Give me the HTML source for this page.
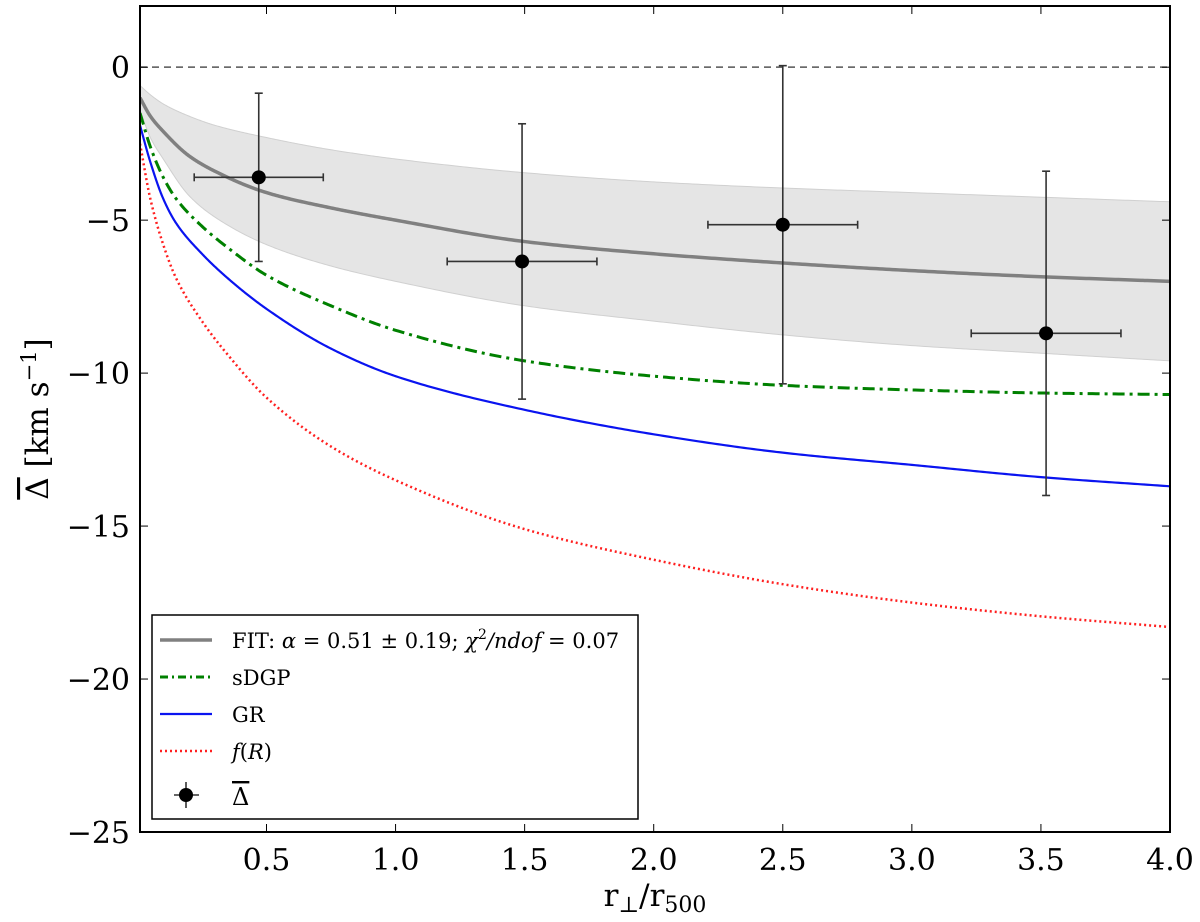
<!DOCTYPE html>
<html><head><meta charset="utf-8"><style>
body{margin:0;background:#fff}
svg text{font-family:"DejaVu Serif","Liberation Serif",serif;fill:#000}
</style></head><body>
<svg id="c" width="1200" height="917"></svg>
<script>
const xsFit=[0.01,0.05,0.1,0.2,0.3,0.5,0.75,1,1.5,2,2.5,3,3.5,4];
const fitVals=[-1.0,-1.6,-2.1,-2.9,-3.4,-4.1,-4.6,-5.0,-5.7,-6.1,-6.4,-6.65,-6.85,-7.0];
const bandUpper=[-0.6,-0.9,-1.2,-1.6,-1.9,-2.3,-2.7,-3.0,-3.45,-3.75,-3.95,-4.1,-4.25,-4.4];
const bandLower=[-1.4,-2.3,-3.0,-4.2,-4.9,-5.8,-6.5,-7.0,-7.8,-8.3,-8.75,-9.1,-9.35,-9.6];
const xsModel=[0.01,0.05,0.1,0.15,0.25,0.35,0.5,0.75,1,1.5,2,2.5,3,3.5,4];
const sdgpVals=[-1.5,-2.6,-3.6,-4.3,-5.2,-5.9,-6.8,-7.8,-8.6,-9.6,-10.1,-10.4,-10.55,-10.65,-10.7];
const grVals=[-1.9,-3.1,-4.3,-5.1,-6.1,-6.9,-7.9,-9.2,-10.1,-11.2,-12.0,-12.6,-13.0,-13.4,-13.7];
const frVals=[-2.5,-4.3,-5.8,-6.9,-8.3,-9.4,-10.8,-12.4,-13.5,-15.1,-16.1,-16.9,-17.5,-17.95,-18.3];
const ptX=[0.47,1.49,2.5,3.52];
const ptY=[-3.6,-6.35,-5.15,-8.7];
const ptXErr=[0.25,0.29,0.29,0.29];
const ptYErr=[2.75,4.5,5.2,5.3];
const xTicks=[0.5,1.0,1.5,2.0,2.5,3.0,3.5,4.0];
const xTickLabels=["0.5","1.0","1.5","2.0","2.5","3.0","3.5","4.0"];
const yTicks=[0,-5,-10,-15,-20,-25];
const yTickLabels=["0","\u22125","\u221210","\u221215","\u221220","\u221225"];

const L=140,R=1170,T=6,B=832,X0=0.01,X1=4,Y0=-25,Y1=2;
const sx=v=>L+(v-X0)/(X1-X0)*(R-L);
const sy=v=>B-(v-Y0)/(Y1-Y0)*(B-T);
const svg=document.getElementById('c');
const NS='http://www.w3.org/2000/svg';
function el(t,a,p){const e=document.createElementNS(NS,t);for(const k in a)e.setAttribute(k,a[k]);(p||svg).appendChild(e);return e;}
// monotone cubic (Fritsch-Carlson) in data space, densely sampled
function mono(xs,ys){
  const n=xs.length,d=[],m=[];
  for(let i=0;i<n-1;i++)d.push((ys[i+1]-ys[i])/(xs[i+1]-xs[i]));
  m[0]=d[0];m[n-1]=d[n-2];
  for(let i=1;i<n-1;i++){
    if(d[i-1]*d[i]<=0)m[i]=0;
    else{const h0=xs[i]-xs[i-1],h1=xs[i+1]-xs[i];const w1=2*h1+h0,w2=h1+2*h0;m[i]=(w1+w2)/(w1/d[i-1]+w2/d[i]);}
  }
  const pts=[];
  for(let i=0;i<n-1;i++){
    const h=xs[i+1]-xs[i];
    for(let k=0;k<40;k++){
      const t=k/40,t2=t*t,t3=t2*t;
      const y=(2*t3-3*t2+1)*ys[i]+(t3-2*t2+t)*h*m[i]+(-2*t3+3*t2)*ys[i+1]+(t3-t2)*h*m[i+1];
      pts.push([xs[i]+t*h,y]);
    }
  }
  pts.push([xs[n-1],ys[n-1]]);
  return pts;
}
const toPath=pts=>pts.map((p,i)=>(i?'L':'M')+sx(p[0]).toFixed(2)+','+sy(p[1]).toFixed(2)).join(' ');
const defs=el('defs',{});const cp=el('clipPath',{id:'cp'},defs);el('rect',{x:L,y:T,width:R-L,height:B-T},cp);
const g=el('g',{'clip-path':'url(#cp)'});
const upP=mono(xsFit,bandUpper),loP=mono(xsFit,bandLower).reverse();
const band=el('path',{d:toPath(upP.concat(loP))+' Z',fill:'#e5e5e5',stroke:'#d0d0d0','stroke-width':1},g);


const zl=el('line',{x1:L,x2:R,y1:sy(0),y2:sy(0),stroke:'#555','stroke-width':1.5,'stroke-dasharray':'7,5'},g);


const f1=el('path',{d:toPath(mono(xsModel,frVals)),fill:'none',stroke:'#ff2020','stroke-width':2.5,'stroke-dasharray':'2,3'},g);


const f2=el('path',{d:toPath(mono(xsModel,grVals)),fill:'none',stroke:'#0a14f0','stroke-width':2.2},g);


const f3=el('path',{d:toPath(mono(xsModel,sdgpVals)),fill:'none',stroke:'#008000','stroke-width':3,'stroke-dasharray':'12,5,3,5'},g);


const f4=el('path',{d:toPath(mono(xsFit,fitVals)),fill:'none',stroke:'#808080','stroke-width':3.5},g);


ptX.forEach((x,i)=>{
  const pg=el('g',{stroke:'#333','stroke-width':1.6});
  
  
  const cx=sx(x),cy=sy(ptY[i]),xl=sx(x-ptXErr[i]),xr=sx(x+ptXErr[i]),yt=sy(ptY[i]+ptYErr[i]),yb=sy(ptY[i]-ptYErr[i]);
  el('line',{x1:xl,x2:xr,y1:cy,y2:cy},pg);el('line',{x1:cx,x2:cx,y1:yt,y2:yb},pg);
  el('line',{x1:xl,x2:xl,y1:cy-4,y2:cy+4},pg);el('line',{x1:xr,x2:xr,y1:cy-4,y2:cy+4},pg);
  el('line',{x1:cx-4,x2:cx+4,y1:yt,y2:yt},pg);el('line',{x1:cx-4,x2:cx+4,y1:yb,y2:yb},pg);
  el('circle',{cx:cx,cy:cy,r:7,fill:'#000',stroke:'none'},pg);
});
const fr=el('rect',{x:L,y:T,width:R-L,height:B-T,fill:'none',stroke:'#000','stroke-width':2});


xTicks.forEach((v,i)=>{
  el('line',{x1:sx(v),x2:sx(v),y1:B,y2:B-8,stroke:'#000','stroke-width':1});
  el('line',{x1:sx(v),x2:sx(v),y1:T,y2:T+8,stroke:'#000','stroke-width':1});
  const t=el('text',{x:sx(v),y:B+38,'font-size':30,'text-anchor':'middle'});t.textContent=xTickLabels[i];
  
  
});
yTicks.forEach((v,i)=>{
  el('line',{x1:L,x2:L+8,y1:sy(v),y2:sy(v),stroke:'#000','stroke-width':1});
  el('line',{x1:R,x2:R-8,y1:sy(v),y2:sy(v),stroke:'#000','stroke-width':1});
  const t=el('text',{x:L-10,y:sy(v)+11,'font-size':30,'text-anchor':'end'});t.textContent=yTickLabels[i];
  
  
});
const xt=el('text',{x:(L+R)/2,y:906,'font-size':31,'text-anchor':'middle'});
xt.innerHTML='r<tspan font-size="22" dy="6">\u22a5</tspan><tspan dy="-6">/r</tspan><tspan font-size="22" dy="6">500</tspan>';


const yt=el('text',{x:0,y:0,'font-size':31,'text-anchor':'middle',transform:`translate(48,${(T+B)/2}) rotate(-90)`});
yt.innerHTML='<tspan text-decoration="overline">\u0394</tspan> [km s<tspan font-size="21" dy="-12">\u22121</tspan><tspan dy="12">]</tspan>';


const lg=el('g',{});


el('rect',{x:152,y:615,width:486,height:204,fill:'#fff',stroke:'#000','stroke-width':1.5},lg);
const items=[
 ['FIT: <tspan font-style="italic">α</tspan> = 0.51 ± 0.19; <tspan font-style="italic">χ</tspan><tspan font-size="14" dy="-9">2</tspan><tspan dy="9" font-style="italic">/ndof</tspan> = 0.07',{stroke:'#808080','stroke-width':3.5}],
 ['sDGP',{stroke:'#008000','stroke-width':3,'stroke-dasharray':'8,4,2,4'}],
 ['GR',{stroke:'#0a14f0','stroke-width':2.2}],
 ['<tspan font-style="italic">f</tspan>(<tspan font-style="italic">R</tspan>)',{stroke:'#ff2020','stroke-width':2.5,'stroke-dasharray':'2,3'}]];
items.forEach((it,i)=>{
  const y=640+i*37;
  el('line',Object.assign({x1:160,x2:212,y1:y,y2:y},it[1]),lg);
  const t=el('text',{x:232,y:y+8,'font-size':21},lg);t.innerHTML=it[0];
  
  
});
const ly=795;
el('line',{x1:174,x2:199,y1:ly,y2:ly,stroke:'#333','stroke-width':1.6},lg);
el('line',{x1:186,x2:186,y1:ly-13,y2:ly+13,stroke:'#333','stroke-width':1.6},lg);
el('circle',{cx:186,cy:ly,r:7,fill:'#000'},lg);
const lt=el('text',{x:232,y:ly+10,'font-size':24,'text-decoration':'overline'},lg);lt.textContent='\u0394';


</script>
</body></html>
